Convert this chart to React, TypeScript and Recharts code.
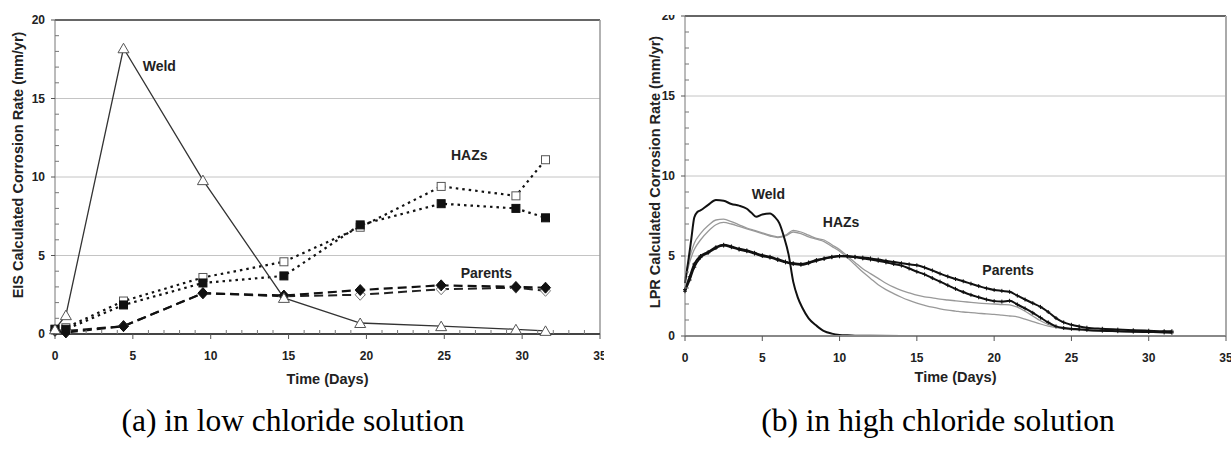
import React from 'react';
import { LineChart, Line, XAxis, YAxis, ReferenceLine, ReferenceDot } from 'recharts';

// (a) low chloride, EIS readings
const daysA = [0, 0.7, 4.4, 9.5, 14.7, 19.6, 24.8, 29.6, 31.5];
const weldA = [0.3, 1.2, 18.2, 9.8, 2.3, 0.7, 0.5, 0.3, 0.2];
const hazOpenA = [0.3, 0.4, 2.1, 3.6, 4.6, 6.8, 9.4, 8.8, 11.1];
const hazFilledA = [0.3, 0.3, 1.85, 3.25, 3.7, 6.95, 8.3, 8.0, 7.4];
const parFilledA = [0.2, 0.1, 0.5, 2.6, 2.45, 2.8, 3.1, 3.0, 2.95];
const parOpenA = [0.25, 0.2, 0.5, 2.6, 2.4, 2.5, 2.85, 2.95, 2.75];

// (b) high chloride, LPR readings
const weldBDays = [0, 0.2, 0.4, 0.6, 0.8, 1, 1.5, 2, 2.5, 3, 3.5, 4, 4.3, 4.6, 5, 5.5, 5.8, 6.1, 6.4, 6.7, 7, 7.3, 7.6, 8, 8.5, 9, 9.5, 10, 10.5, 11, 12, 14, 20, 25, 31.5];
const weldB = [3.3, 4.6, 6.0, 7.4, 7.75, 7.85, 8.2, 8.5, 8.45, 8.25, 8.15, 7.95, 7.7, 7.45, 7.6, 7.65, 7.45, 7.05, 6.2, 5.1, 3.4, 2.4, 1.75, 1.1, 0.65, 0.3, 0.15, 0.07, 0.04, 0.02, 0.01, 0, 0, 0, 0];

const daysB = [0, 0.3, 0.6, 1, 1.5, 2, 2.5, 3, 3.5, 4, 4.5, 5, 5.5, 6, 6.5, 7, 7.5, 8, 8.5, 9, 9.5, 10, 10.5, 11, 11.5, 12, 12.5, 13,
  13.5, 14, 14.5, 15, 15.5, 16, 16.5, 17, 17.5, 18, 18.5, 19, 19.5, 20, 20.5, 21, 21.5, 22, 22.5, 23, 23.5, 24, 24.5, 25, 25.5,
  26, 27, 28, 29, 30, 31, 31.5];
const hazB1 = [3.6, 4.9, 5.8, 6.4,
  6.9, 7.25, 7.3, 7.15, 6.95, 6.75, 6.6, 6.45, 6.3, 6.2, 6.3, 6.6, 6.5, 6.3, 6.1, 6.0, 5.7, 5.4, 5.0, 4.6, 4.2, 3.9, 3.6, 3.3,
  3.05, 2.85, 2.7, 2.55, 2.45, 2.38, 2.3, 2.25, 2.2, 2.15, 2.1, 2.05, 2.02, 2.0, 1.97, 1.95, 1.8, 1.55, 1.25, 0.95, 0.72, 0.57, 0.48, 0.42, 0.38,
  0.35, 0.31, 0.29, 0.27, 0.26, 0.25, 0.25];
const hazB2 = [3.4, 4.6, 5.4, 6.0,
  6.55, 6.95, 7.1, 7.0, 6.85, 6.7, 6.55, 6.4, 6.25, 6.15, 6.25, 6.5, 6.4, 6.2, 6.05, 5.9, 5.6, 5.3, 4.9, 4.45, 4.0, 3.6, 3.2, 2.9,
  2.65, 2.42, 2.22, 2.05, 1.92, 1.8, 1.7, 1.62, 1.56, 1.5, 1.46, 1.42, 1.38, 1.35, 1.3, 1.25, 1.2, 1.05, 0.9, 0.75, 0.62, 0.52, 0.45, 0.4, 0.37,
  0.34, 0.3, 0.28, 0.27, 0.26, 0.25, 0.25];
const parB1 = [2.9, 3.7, 4.5, 5.0,
  5.25, 5.55, 5.7, 5.6, 5.45, 5.35, 5.2, 5.05, 4.95, 4.8, 4.65, 4.55, 4.5, 4.6, 4.75, 4.85, 4.95, 5.0, 5.0, 4.95, 4.9, 4.85, 4.78, 4.7,
  4.62, 4.55, 4.48, 4.42, 4.28, 4.1, 3.9, 3.72, 3.56, 3.42, 3.27, 3.12, 2.98, 2.88, 2.82, 2.76, 2.52, 2.28, 2.05, 1.82, 1.5, 1.12, 0.85, 0.7, 0.6,
  0.52, 0.45, 0.4, 0.36, 0.33, 0.3, 0.3];
const parB2 = [2.8, 3.5, 4.3, 4.9,
  5.2, 5.5, 5.65, 5.55, 5.4, 5.3, 5.15, 5.0, 4.9, 4.75, 4.6, 4.5, 4.45, 4.55, 4.7, 4.82, 4.92, 4.98, 4.97, 4.92, 4.85, 4.78, 4.7, 4.6,
  4.5, 4.4, 4.22, 4.02, 3.85, 3.62, 3.4, 3.17, 2.95, 2.75, 2.57, 2.42, 2.28, 2.18, 2.15, 2.2, 1.97, 1.72, 1.45, 1.15, 0.85, 0.6, 0.5, 0.45, 0.42,
  0.38, 0.33, 0.3, 0.27, 0.25, 0.22, 0.2];

const xTicks = [0, 1, 2, 3, 4, 5, 6, 7, 8, 9, 10, 11, 12, 13, 14, 15, 16, 17, 18, 19, 20, 21, 22, 23, 24, 25, 26, 27, 28, 29, 30, 31, 32, 33, 34, 35];
const yTicks = [0, 1, 2, 3, 4, 5, 6, 7, 8, 9, 10, 11, 12, 13, 14, 15, 16, 17, 18, 19, 20];

const rows = (d: number[], v: number[]) => d.map((x, i) => ({ d: x, v: v[i] }));
const dataA = daysA.map((d, i) => ({
  d, weld: weldA[i], hazO: hazOpenA[i], hazF: hazFilledA[i], parF: parFilledA[i], parO: parOpenA[i],
}));

const SANS = "'Liberation Sans', Arial, sans-serif";
const txt = { fontFamily: SANS, fontWeight: 'bold' as const, fill: '#222' };

const makeXTick = (minor: boolean) => (p: any) => {
  const { x, y, payload } = p;
  const v = payload.value;
  if (v % 5 === 0) {
    return (
      <g>
        <line x1={x} y1={y} x2={x} y2={y + 5} stroke="#555" />
        <text x={x} y={y + 22} textAnchor="middle" dominantBaseline="central" fontSize={12} {...txt}>{v}</text>
      </g>
    );
  }
  return minor ? <line x1={x} y1={y} x2={x} y2={y - 4} stroke="#777" /> : <g />;
};

const YTick = (p: any) => {
  const { x, y, payload } = p;
  const v = payload.value;
  if (v % 5 === 0) {
    return (
      <g>
        <line x1={x - 4} y1={y} x2={x} y2={y} stroke="#555" />
        <text x={x - 10} y={y} textAnchor="end" dominantBaseline="central" fontSize={12} {...txt}>{v}</text>
      </g>
    );
  }
  return <line x1={x} y1={y} x2={x + 4} y2={y} stroke="#777" />;
};

const yTitle = (value: string, dx: number, shift: number) => (p: any) => {
  const vb = p.viewBox;
  const cx = vb.x + dx;
  const cy = vb.y + vb.height / 2 + shift;
  return (
    <text x={cx} y={cy} transform={`rotate(-90 ${cx} ${cy})`} textAnchor="middle" dominantBaseline="central" fontSize={14.5} {...txt}>
      {value}
    </text>
  );
};

const xTitle = (dy: number) => (p: any) => {
  const vb = p.viewBox;
  return (
    <text x={vb.x + vb.width / 2} y={vb.y + dy} textAnchor="middle" dominantBaseline="central" fontSize={14.5} {...txt}>
      Time (Days)
    </text>
  );
};

const triangle = (p: any) => (
  <path key={`t${p.index}`} d={`M${p.cx},${p.cy - 5}L${p.cx + 5.5},${p.cy + 4.5}L${p.cx - 5.5},${p.cy + 4.5}Z`} fill="#fff" stroke="#555" />
);
const square = (fill: string) => (p: any) => (
  <rect key={`s${p.index}`} x={p.cx - 4} y={p.cy - 4} width={8} height={8} fill={fill} stroke={fill === '#fff' ? '#555' : '#111'} />
);
const diamond = (fill: string) => (p: any) => (
  <path key={`d${p.index}`} d={`M${p.cx},${p.cy - 5.5}L${p.cx + 5},${p.cy}L${p.cx},${p.cy + 5.5}L${p.cx - 5},${p.cy}Z`} fill={fill} stroke={fill === '#fff' ? '#777' : '#111'} />
);
const cross = (p: any) => (
  <path key={`c${p.index}`} d={`M${p.cx - 2},${p.cy}L${p.cx + 2},${p.cy}M${p.cx},${p.cy - 2}L${p.cx},${p.cy + 2}`} stroke="#111" strokeWidth={1} />
);

const seriesLabel = (value: string) => ({ value, position: 'center' as const, fontSize: 14, ...txt });

const caption = { position: 'absolute' as const, width: 420, top: 402, textAlign: 'center' as const, fontFamily: "'Liberation Serif', 'Times New Roman', serif", fontSize: 31.5, lineHeight: '38px', color: '#000' };

export default function App() {
  return (
    <div style={{ position: 'relative', width: 1231, height: 455, background: '#fff', overflow: 'hidden' }}>
      <style>{'body{margin:0}'}</style>

      <div style={{ position: 'absolute', left: 0, top: 0, width: 604, height: 400, overflow: 'hidden' }}>
        <LineChart width={610} height={400} data={dataA} margin={{ top: 20, right: 10, bottom: 16, left: 0 }}>
          <XAxis dataKey="d" type="number" domain={[0, 35]} ticks={xTicks} interval={0} tickSize={0} tickMargin={0}
            tickLine={false} tick={makeXTick(true)} axisLine={{ stroke: '#444', strokeWidth: 2 }} height={50}
            label={xTitle(45)} />
          <YAxis type="number" domain={[0, 20]} ticks={yTicks} interval={0} tickSize={0} tickMargin={0}
            tickLine={false} tick={YTick} axisLine={{ stroke: '#777' }} width={55} label={yTitle('EIS Calculated Corrosion Rate (mm/yr)', 18, -12)} />
          <ReferenceLine y={5} stroke="#c4c4c4" />
          <ReferenceLine y={10} stroke="#c4c4c4" />
          <ReferenceLine y={15} stroke="#c4c4c4" />
          <ReferenceLine y={20} stroke="#333" strokeWidth={1.5} />
          <ReferenceLine x={35} stroke="#999" strokeWidth={1.5} />
          <Line dataKey="parO" stroke="#222" strokeWidth={2} strokeDasharray="9 5" dot={diamond('#fff')} isAnimationActive={false} />
          <Line dataKey="parF" stroke="#111" strokeWidth={2.2} strokeDasharray="9 5" dot={diamond('#111')} isAnimationActive={false} />
          <Line dataKey="hazO" stroke="#111" strokeWidth={2.2} strokeDasharray="2.5 4" dot={square('#fff')} isAnimationActive={false} />
          <Line dataKey="hazF" stroke="#111" strokeWidth={2.2} strokeDasharray="2.5 4" dot={square('#111')} isAnimationActive={false} />
          <Line dataKey="weld" stroke="#333" strokeWidth={1.3} dot={triangle} isAnimationActive={false} />
          <ReferenceDot x={6.7} y={17.1} r={0} fill="none" stroke="none" label={seriesLabel('Weld')} />
          <ReferenceDot x={26.6} y={11.4} r={0} fill="none" stroke="none" label={seriesLabel('HAZs')} />
          <ReferenceDot x={27.7} y={3.9} r={0} fill="none" stroke="none" label={seriesLabel('Parents')} />
        </LineChart>
      </div>

      <div style={{ position: 'absolute', left: 620, top: 15, width: 611, height: 440, overflow: 'hidden' }}>
        <div style={{ position: 'relative', top: -15 }}>
          <LineChart width={611} height={400} margin={{ top: 16, right: 5, bottom: 17, left: 0 }}>
            <XAxis dataKey="d" type="number" domain={[0, 35]} ticks={xTicks} interval={0} tickSize={0} tickMargin={0}
              tickLine={false} tick={makeXTick(false)} axisLine={{ stroke: '#888', strokeWidth: 2 }} height={47}
              label={xTitle(41)} />
            <YAxis type="number" domain={[0, 20]} ticks={yTicks} interval={0} tickSize={0} tickMargin={0}
              tickLine={false} tick={YTick} axisLine={{ stroke: '#777' }} width={65} label={yTitle('LPR Calculated Corrosion Rate (mm/yr)', 35, -4)} />
            <ReferenceLine y={5} stroke="#c4c4c4" />
            <ReferenceLine y={10} stroke="#c4c4c4" />
            <ReferenceLine y={15} stroke="#c4c4c4" />
            <ReferenceLine y={20} stroke="#333" strokeWidth={1.5} />
            <ReferenceLine x={35} stroke="#aaa" strokeWidth={2} />
            <Line data={rows(daysB, hazB1)} dataKey="v" type="monotone" stroke="#999" strokeWidth={1.3} dot={false} isAnimationActive={false} />
            <Line data={rows(daysB, hazB2)} dataKey="v" type="monotone" stroke="#999" strokeWidth={1.3} dot={false} isAnimationActive={false} />
            <Line data={rows(daysB, parB1)} dataKey="v" type="monotone" stroke="#111" strokeWidth={2} dot={cross} isAnimationActive={false} />
            <Line data={rows(daysB, parB2)} dataKey="v" type="monotone" stroke="#111" strokeWidth={2} dot={cross} isAnimationActive={false} />
            <Line data={rows(weldBDays, weldB)} dataKey="v" type="monotone" stroke="#111" strokeWidth={2} dot={false} isAnimationActive={false} />
            <ReferenceDot x={5.4} y={8.9} r={0} fill="none" stroke="none" label={seriesLabel('Weld')} />
            <ReferenceDot x={10.1} y={7.1} r={0} fill="none" stroke="none" label={seriesLabel('HAZs')} />
            <ReferenceDot x={20.9} y={4.1} r={0} fill="none" stroke="none" label={seriesLabel('Parents')} />
          </LineChart>
        </div>
      </div>

      <div style={{ ...caption, left: 83 }}>(a) in low chloride solution</div>
      <div style={{ ...caption, left: 728 }}>(b) in high chloride solution</div>
    </div>
  );
}
